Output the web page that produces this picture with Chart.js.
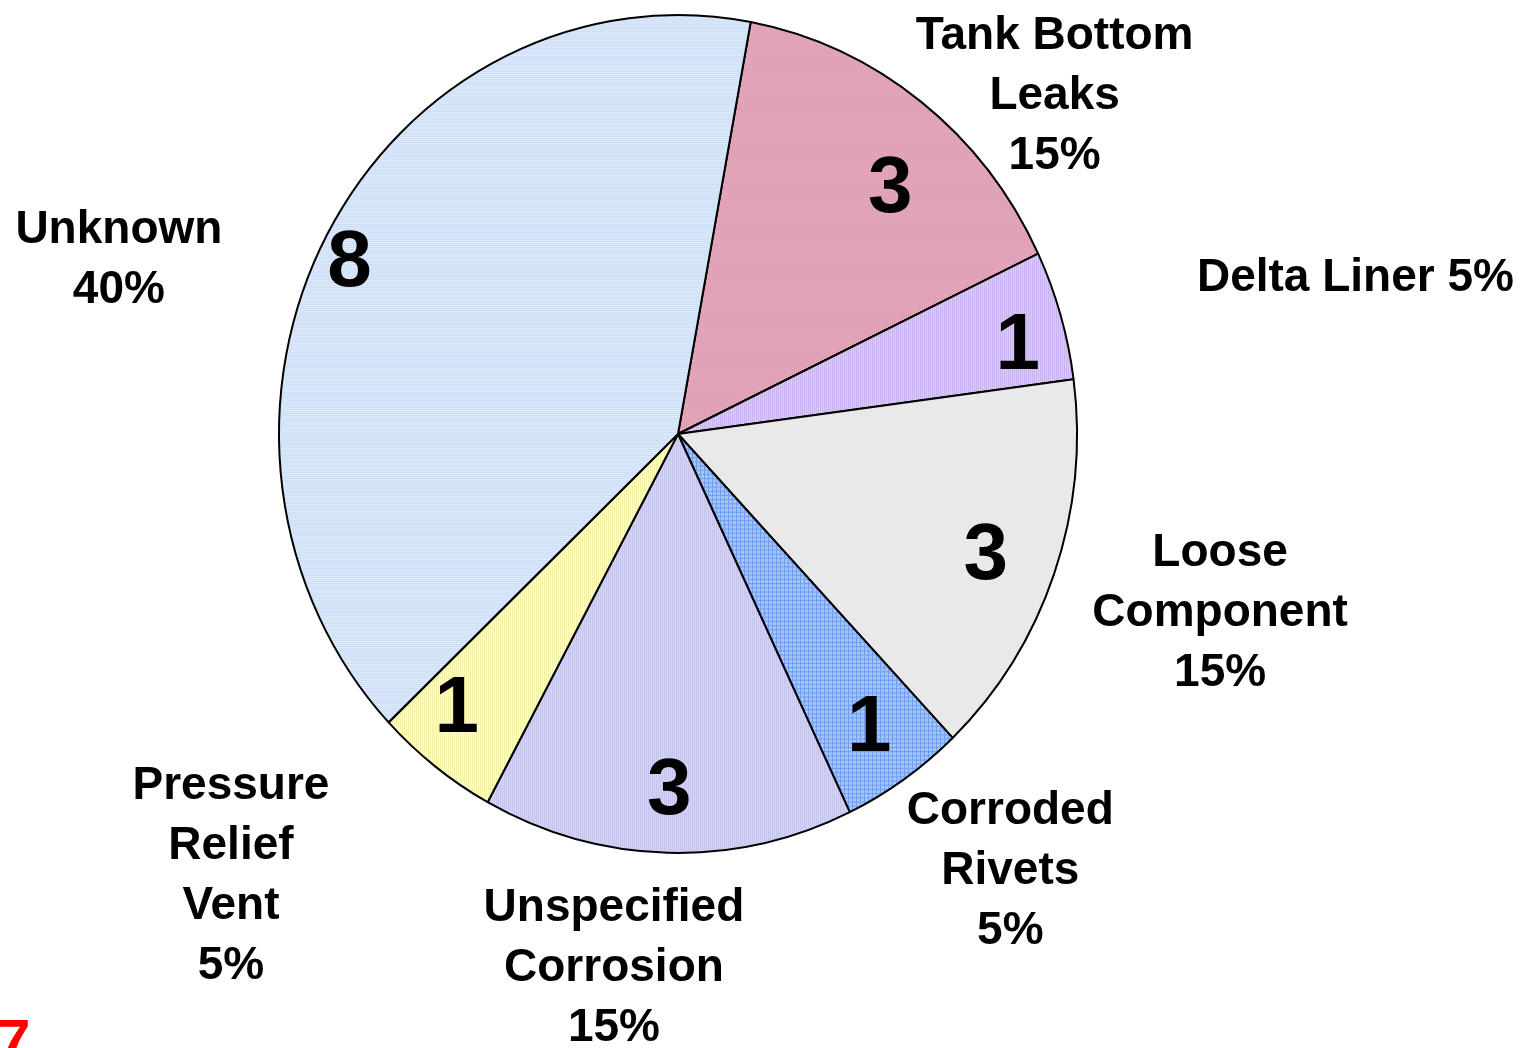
<!DOCTYPE html>
<html>
<head>
<meta charset="utf-8">
<script src="https://cdn.jsdelivr.net/npm/chart.js@4/dist/chart.umd.min.js"></script>
<style>
  html, body { margin: 0; padding: 0; background: #fff; overflow: hidden; }
  canvas { display: block; }
</style>
</head>
<body>
<canvas id="myChart" width="1528" height="1048"></canvas>
<script>
// data, clockwise from just right of 12 o'clock
const categories = [
  ['Tank Bottom', 'Leaks'],
  ['Delta Liner'],
  ['Loose', 'Component'],
  ['Corroded', 'Rivets'],
  ['Unspecified', 'Corrosion'],
  ['Pressure', 'Relief', 'Vent'],
  ['Unknown']
];
const counts = [3, 1, 3, 1, 3, 1, 8];
const pctInline = [false, true, false, false, false, false, false];

// placement: [radius factor, angle shift in degrees]
const countPlace = [
  [0.80, 4.2], [0.88, 1.9], [0.82, 0.4], [0.84, -0.3],
  [0.84, 0], [0.85, 3.2], [0.925, -1.4]
];
const labelPlace = [
  [1.245, 11.8], [1.739, 4.0], [1.423, -2.2], [1.332, -4.2],
  [1.281, 5.7], [1.537, 9.3], [1.463, -11.8]
];
const stretchY = 1.05; // the original pie is a bit taller than wide

function makePattern(bg, fg, kind) {
  const c = document.createElement('canvas');
  c.width = 4; c.height = 4;
  const g = c.getContext('2d');
  g.fillStyle = bg; g.fillRect(0, 0, 4, 4);
  g.fillStyle = fg;
  if (kind === 'h') { g.fillRect(0, 0, 4, 1); g.fillRect(0, 2, 4, 1); }
  if (kind === 'v') { g.fillRect(0, 0, 1, 4); g.fillRect(2, 0, 1, 4); }
  if (kind === 'grid') { g.fillRect(0, 0, 4, 1); g.fillRect(0, 0, 1, 4); }
  if (kind === 'dot') { g.fillRect(0, 0, 1, 1); g.fillRect(2, 2, 1, 1); }
  return g.createPattern(c, 'repeat');
}

const fills = [
  makePattern('#e2a4b8', '#d998ae', 'dot'),
  makePattern('#dccaf8', '#c9b2f0', 'v'),
  makePattern('#eaeaea', '#e2e2e2', 'dot'),
  makePattern('#a4c4fa', '#6f9ef2', 'grid'),
  makePattern('#d4d4f6', '#c4c4ee', 'v'),
  makePattern('#ffffcc', '#f6f0a8', 'v'),
  makePattern('#e2ecfb', '#c8dcf6', 'h')
];

const total = counts.reduce((a, b) => a + b, 0);

function pointAt(p, place, mid) {
  const a = mid + place[1] * Math.PI / 180;
  const r = p.outerRadius * place[0];
  return [p.x + Math.cos(a) * r, p.y + Math.sin(a) * r * stretchY];
}

const labelPlugin = {
  id: 'sliceLabels',
  beforeDatasetsDraw(chart) {
    const ctx = chart.ctx;
    const a0 = chart.getDatasetMeta(0).data[0];
    ctx.save();
    ctx.translate(a0.x, a0.y);
    ctx.scale(1, stretchY);
    ctx.translate(-a0.x, -a0.y);
  },
  afterDatasetsDraw(chart) {
    const ctx = chart.ctx;
    ctx.restore();
    const arcs = chart.getDatasetMeta(0).data;
    ctx.save();
    ctx.fillStyle = '#000';
    ctx.textAlign = 'center';
    ctx.textBaseline = 'middle';
    arcs.forEach((arc, i) => {
      const p = arc.getProps(['x', 'y', 'startAngle', 'endAngle', 'outerRadius'], true);
      const mid = (p.startAngle + p.endAngle) / 2;
      // count inside slice
      ctx.font = 'bold 80px "Liberation Sans", Arial, sans-serif';
      const c = pointAt(p, countPlace[i], mid);
      ctx.fillText(String(counts[i]), c[0], c[1] + 6);

      // outer label
      const pct = Math.round(counts[i] / total * 100) + '%';
      const lines = categories[i].slice();
      if (pctInline[i]) lines[lines.length - 1] += ' ' + pct;
      else lines.push(pct);
      const l = pointAt(p, labelPlace[i], mid);
      const lh = 60;
      ctx.font = 'bold 46px "Liberation Sans", Arial, sans-serif';
      lines.forEach((t, k) => {
        ctx.fillText(t, l[0], l[1] + 2 + (k - (lines.length - 1) / 2) * lh);
      });
    });
    // slide number, cut off at the bottom edge
    ctx.fillStyle = '#ff0000';
    ctx.textAlign = 'left';
    ctx.textBaseline = 'alphabetic';
    ctx.font = 'bold 60px "Liberation Sans", Arial, sans-serif';
    ctx.fillText('7', -3, 1061);
    ctx.restore();
  }
};

new Chart(document.getElementById('myChart'), {
  type: 'pie',
  data: {
    labels: categories.map(c => c.join(' ')),
    datasets: [{
      data: counts,
      backgroundColor: fills,
      borderColor: '#000',
      borderWidth: 2,
      borderAlign: 'center'
    }]
  },
  options: {
    responsive: false,
    animation: false,
    rotation: 10.5,
    layout: { padding: { left: 278, right: 450, top: 34, bottom: 214 } },
    plugins: {
      legend: { display: false },
      tooltip: { enabled: false }
    }
  },
  plugins: [labelPlugin]
});
</script>
</body>
</html>
